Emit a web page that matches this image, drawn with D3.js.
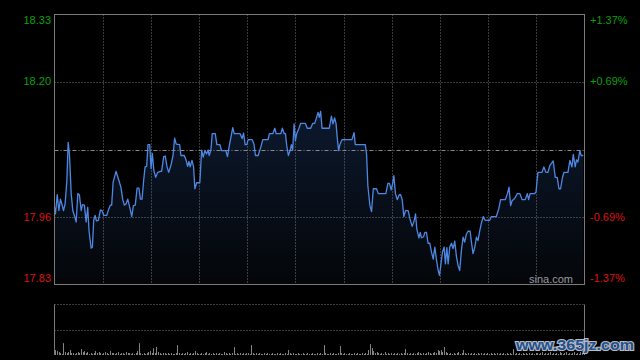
<!DOCTYPE html>
<html><head><meta charset="utf-8">
<script src="https://cdnjs.cloudflare.com/ajax/libs/d3/7.8.5/d3.min.js"></script>
<style>
html,body{margin:0;padding:0;background:#000;}
svg{display:block;}
text{font-family:"Liberation Sans",Arial,sans-serif;}
</style></head>
<body>
<svg id="c" width="640" height="360"></svg>
<script>
// ---- data ----
const preClose = 18.08;
const maxPct = 1.37;
const totalMinutes = 330;
const leftTickLabels = ["18.33", "18.20", "17.96", "17.83"];
const rightTickLabels = ["+1.37%", "+0.69%", "-0.69%", "-1.37%"];
const tickPcts = [1.37, 0.69, -0.69, -1.37];

const minutes = [0,0.6,1.7,2.7,3.7,4.6,5.6,6.6,7.7,8.5,9.3,10.4,11.4,12.4,13.5,14.5,15.5,16.6,17.4,18.6,19.7,20.7,21.5,22.8,23.6,24.4,25.3,26.1,27.3,28.6,29.6,30.7,32.5,33.8,34.8,35.6,36.5,38.3,40.0,41.4,42.5,43.5,44.5,45.6,46.6,48.1,49.1,50.3,51.4,52.6,53.5,54.5,55.5,56.4,57.4,58.2,59.3,60.1,60.9,61.9,63.0,64.2,65.9,66.7,68.0,69.0,70.0,71.1,72.5,73.8,74.8,75.8,77.9,78.7,80.8,82.0,82.9,83.7,84.5,85.6,86.6,87.4,88.5,90.5,91.6,92.6,93.6,94.7,95.7,96.3,97.4,98.2,100.1,101.1,103.0,104.0,106.7,107.7,109.0,
111.0,111.9,115.6,116.8,117.7,118.7,119.7,120.6,123.1,124.3,125.1,126.8,128.4,129.7,133.0,133.8,135.9,137.2,138.0,140.9,141.9,143.0,143.8,144.6,145.6,146.7,147.5,148.3,149.2,150.0,150.8,152.1,153.3,156.2,157.4,159.5,160.8,162.0,163.2,164.1,164.9,165.7,166.6,171.1,172.4,173.4,174.4,175.3,176.1,176.9,177.7,179.0,185.2,186.5,187.3,193.5,194.3,195.1,196.4,197.4,198.5,200.5,201.6,206.3,207.6,208.6,209.6,210.5,211.3,212.3,213.4,214.6,215.5,216.5,217.5,218.6,
220.2,221.3,222.7,224.0,224.8,225.6,226.9,227.7,228.5,229.8,230.6,231.6,232.6,233.7,234.7,235.8,236.8,237.8,238.9,239.7,240.5,241.6,242.6,243.4,244.3,245.1,246.1,247.2,248.2,249.2,250.3,251.3,252.3,253.4,254.4,255.4,256.5,257.5,258.8,259.6,260.6,261.7,262.7,263.7,264.8,265.8,267.0,267.9,268.7,271.0,272.0,275.1,276.6,277.8,280.7,282.0,283.0,284.0,284.9,286.5,288.2,289.8,291.1,293.1,294.4,295.2,296.1,298.9,299.8,301.0,303.5,304.7,306.0,307.2,308.5,310.5,311.8,313.0,314.1,315.1,316.3,317.2,319.7,320.9,322.2,323.0,324.2,325.0,325.9,327.1,327.9,329.2];

const prices = [17.974,17.962,17.997,17.968,17.989,17.980,17.968,17.980,18.023,18.093,18.072,17.999,17.968,17.959,17.947,17.999,17.997,17.968,17.979,17.978,17.947,17.974,17.931,17.899,17.901,17.950,17.959,17.949,17.950,17.969,17.968,17.959,17.959,17.971,17.978,17.978,18.020,18.040,18.024,18.010,17.988,17.978,17.980,17.989,17.977,17.957,17.977,17.978,18.009,18.009,17.989,17.989,18.023,18.048,18.049,18.089,18.089,18.045,18.073,18.041,18.029,18.038,18.040,18.040,18.067,18.068,18.049,18.038,18.051,18.069,18.101,18.090,18.089,18.069,18.069,18.060,18.049,18.058,18.048,18.060,18.048,18.008,18.019,18.019,18.079,18.066,18.078,18.072,18.079,18.069,18.079,18.109,18.109,18.089,18.089,18.078,18.078,18.067,18.090,
18.120,18.109,18.109,18.100,18.110,18.089,18.089,18.098,18.098,18.089,18.069,18.069,18.084,18.098,18.098,18.109,18.109,18.119,18.109,18.109,18.119,18.109,18.109,18.087,18.069,18.078,18.089,18.079,18.127,18.096,18.109,18.118,18.128,18.128,18.119,18.119,18.128,18.128,18.139,18.148,18.139,18.150,18.119,18.119,18.141,18.127,18.138,18.128,18.100,18.078,18.089,18.098,18.098,18.111,18.089,18.089,18.072,18.014,17.977,17.966,18.008,18.008,17.999,17.999,18.018,18.018,18.006,18.017,18.032,17.999,17.988,17.997,17.997,17.988,17.957,17.968,
17.968,17.953,17.939,17.950,17.962,17.934,17.918,17.928,17.918,17.920,17.928,17.928,17.908,17.908,17.892,17.879,17.901,17.878,17.858,17.849,17.867,17.892,17.901,17.870,17.900,17.870,17.901,17.908,17.898,17.912,17.883,17.867,17.858,17.896,17.919,17.910,17.925,17.930,17.930,17.910,17.889,17.901,17.919,17.913,17.931,17.945,17.957,17.951,17.950,17.950,17.957,17.957,17.971,17.988,17.988,17.999,18.011,17.977,17.986,17.990,17.999,17.999,17.988,17.988,17.999,17.988,17.999,17.999,18.002,18.038,18.038,18.048,18.038,18.038,18.051,18.059,18.029,18.029,18.008,18.008,18.029,18.038,18.038,18.060,18.048,18.071,18.048,18.061,18.057,18.078,18.069,18.069];

// volume per minute (estimated), one row per 30 minutes
const volumes = [
50,40,30,20,10,120,30,20,30,50,20,20,10,20,30,20,60,30,40,20,30,10,20,10,20,40,20,30,20,10,
20,30,20,10,40,20,20,10,20,30,10,20,20,10,30,20,20,10,20,10,20,40,120,20,10,20,10,20,30,40,
20,70,20,80,30,20,10,20,20,10,20,10,20,10,10,20,100,20,10,20,10,20,30,10,20,10,20,40,20,10,
10,20,10,20,30,10,20,10,20,10,20,10,20,10,10,30,20,10,20,10,20,80,10,20,10,20,10,20,10,20,
20,10,100,20,10,20,10,20,10,10,20,10,20,10,10,20,10,10,20,10,20,10,10,20,10,50,20,10,20,10,
10,20,10,10,20,10,10,20,10,10,20,10,10,20,10,20,10,100,20,10,10,20,10,20,10,10,20,90,20,10,
20,10,10,20,10,10,20,10,20,10,10,20,10,20,10,50,110,70,40,20,30,20,10,20,10,30,10,20,10,20,
10,20,10,20,10,20,10,20,60,20,10,20,10,20,10,20,30,20,10,20,10,20,30,20,10,20,30,20,50,40,
50,30,80,30,20,10,20,10,20,10,20,30,10,20,50,20,10,20,10,20,10,20,10,20,10,20,10,20,10,20,
10,20,10,20,10,20,10,20,10,20,10,20,10,20,10,60,10,20,10,20,10,20,10,20,10,20,10,20,10,20,
20,10,20,30,10,20,10,20,30,10,20,10,20,10,30,20,10,20,30,10,20,10,20,30,10,20,10,30,20,30];
const volumeMax = 510;
const gridStepMinutes = 30;

// ---- drawing ----
const svg = d3.select("#c");
const L = 54.5, R = 584.5, T = 14.5, B = 284.5;
const VT = 304.5, VB = 355;

const x = d3.scaleLinear().domain([0, totalMinutes]).range([L, R]);
const y = d3.scaleLinear()
  .domain([preClose * (1 - maxPct / 100), preClose * (1 + maxPct / 100)])
  .range([B, T]);
const yv = d3.scaleLinear().domain([0, volumeMax]).range([VB, VT]);

svg.append("rect").attr("width", 640).attr("height", 360).attr("fill", "#000");

const defs = svg.append("defs");
const grad = defs.append("linearGradient").attr("id", "ag")
  .attr("gradientUnits", "userSpaceOnUse")
  .attr("x1", 0).attr("y1", T).attr("x2", 0).attr("y2", B);
grad.append("stop").attr("offset", "0%").attr("stop-color", "#10203a");
grad.append("stop").attr("offset", "45%").attr("stop-color", "#0b1628");
grad.append("stop").attr("offset", "100%").attr("stop-color", "#040609");

const pts = minutes.map((m, i) => [m, prices[i]]);

// area
svg.append("path")
  .attr("d", d3.area().x(d => x(d[0])).y0(B).y1(d => y(d[1]))(pts))
  .attr("fill", "url(#ag)");

// vertical grid
const vg = d3.range(gridStepMinutes, totalMinutes, gridStepMinutes);
svg.append("g").selectAll("line").data(vg).join("line")
  .attr("x1", d => Math.round(x(d)) + 0.5).attr("x2", d => Math.round(x(d)) + 0.5)
  .attr("y1", T).attr("y2", B)
  .attr("stroke", "#777").attr("stroke-width", 1).attr("stroke-dasharray", "1,2");

// horizontal grid (inner ticks)
const innerPcts = tickPcts.filter(p => Math.abs(p) < maxPct);
svg.append("g").selectAll("line").data(innerPcts).join("line")
  .attr("x1", L).attr("x2", R)
  .attr("y1", d => Math.round(y(preClose * (1 + d / 100))) + 0.5)
  .attr("y2", d => Math.round(y(preClose * (1 + d / 100))) + 0.5)
  .attr("stroke", "#777").attr("stroke-width", 1).attr("stroke-dasharray", "1,2");

// pre-close line
svg.append("line")
  .attr("x1", L).attr("x2", R)
  .attr("y1", Math.round(y(preClose)) + 0.5).attr("y2", Math.round(y(preClose)) + 0.5)
  .attr("stroke", "#8a8a8a").attr("stroke-width", 1).attr("stroke-dasharray", "4,2,1,2");

// price line
svg.append("path")
  .attr("d", d3.line().x(d => x(d[0])).y(d => y(d[1]))(pts))
  .attr("fill", "none").attr("stroke", "#4d88e4").attr("stroke-width", 1.3)
  .attr("stroke-linejoin", "round");

// frame
svg.append("rect").attr("x", L).attr("y", T).attr("width", R - L).attr("height", B - T)
  .attr("fill", "none").attr("stroke", "#7a7a7a").attr("stroke-width", 1);

// left labels
svg.append("g").selectAll("text").data(tickPcts).join("text")
  .attr("x", 51)
  .attr("y", d => Math.min(Math.max(y(preClose * (1 + d / 100)), 20), 278))
  .attr("dy", "0.36em")
  .attr("text-anchor", "end")
  .attr("font-size", 11)
  .attr("fill", d => d > 0 ? "#0aa00a" : "#dd1111")
  .text((d, i) => leftTickLabels[i]);

// right labels
svg.append("g").selectAll("text").data(tickPcts).join("text")
  .attr("x", 590)
  .attr("y", d => Math.min(Math.max(y(preClose * (1 + d / 100)), 20), 278))
  .attr("dy", "0.36em")
  .attr("text-anchor", "start")
  .attr("font-size", 11)
  .attr("fill", d => d > 0 ? "#0aa00a" : "#dd1111")
  .text((d, i) => rightTickLabels[i]);

// sina.com
svg.append("text").attr("x", 573).attr("y", 283).attr("text-anchor", "end")
  .attr("font-size", 11).attr("fill", "#9a9a9a").text("sina.com");

// volume panel
svg.append("line").attr("x1", L).attr("x2", R).attr("y1", VT).attr("y2", VT)
  .attr("stroke", "#777").attr("stroke-dasharray", "1,2");
svg.append("line").attr("x1", L).attr("x2", R)
  .attr("y1", Math.round(yv(volumeMax / 2)) + 0.5).attr("y2", Math.round(yv(volumeMax / 2)) + 0.5)
  .attr("stroke", "#777").attr("stroke-dasharray", "1,2");
svg.append("line").attr("x1", L).attr("x2", L).attr("y1", VT).attr("y2", VB)
  .attr("stroke", "#7a7a7a");
svg.append("line").attr("x1", R).attr("x2", R).attr("y1", VT).attr("y2", VB)
  .attr("stroke", "#7a7a7a");

svg.append("g").selectAll("rect").data(volumes).join("rect")
  .attr("x", (d, i) => Math.round(x(i + 0.5)))
  .attr("width", 1)
  .attr("y", d => yv(d))
  .attr("height", d => VB - yv(d))
  .attr("fill", "#858585");

// watermark
svg.append("text").attr("x", 516).attr("y", 350)
  .attr("font-family", "DejaVu Sans").attr("font-weight", "bold")
  .attr("font-size", 15)
  .attr("textLength", 118).attr("lengthAdjust", "spacingAndGlyphs")
  .attr("fill", "#21508f").attr("stroke", "#b8bcc4").attr("stroke-width", 2.2)
  .attr("paint-order", "stroke")
  .text("www.365jz.com");
</script>
</body></html>
